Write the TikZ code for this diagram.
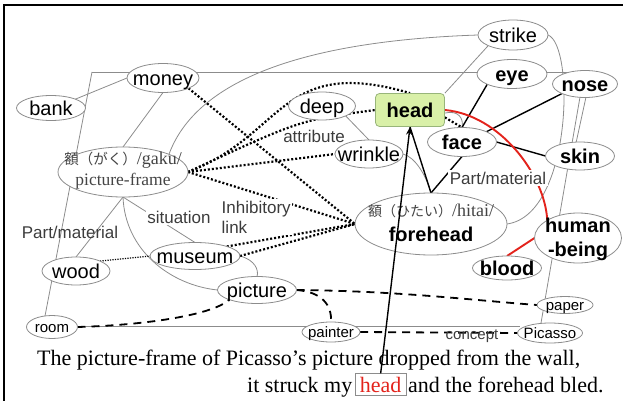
\documentclass[tikz,border=0pt]{standalone}
\usepackage{fontspec}
\setmainfont{Liberation Serif}
\setsansfont{Liberation Sans}
\newfontfamily\cjk{Noto Sans CJK JP}
\usetikzlibrary{arrows.meta,shapes.geometric}
\pgfdeclarelayer{bg}
\pgfsetlayers{bg,main}
\newcommand\ctr[1]{\makebox[0pt]{\smash{\raisebox{-0.36em}{#1}}}}
\newcommand\lnat[2]{\makebox[0pt]{\smash{\raisebox{#1}{#2}}}}
\definecolor{nodegray}{HTML}{8C8C8C}
\definecolor{linegray}{HTML}{8C8C8C}
\definecolor{hilite}{HTML}{E3231C}
\definecolor{headfill}{HTML}{D9F0A8}
\definecolor{headdraw}{HTML}{98B57A}
\definecolor{labeltext}{HTML}{3C3C3C}
\definecolor{jptext}{HTML}{444444}
\begin{document}
\begin{tikzpicture}[x=1pt,y=-1pt,
  nd/.style={ellipse, draw=nodegray, line width=0.8pt, fill=white, inner sep=0pt, outer sep=0pt, font=\sffamily\fontsize{20}{24}\selectfont, text=black},
  bnd/.style={nd, font=\sffamily\bfseries\fontsize{20}{24}\selectfont},
  snd/.style={nd, font=\sffamily\fontsize{15}{18}\selectfont},
  headbox/.style={rectangle, rounded corners=4pt, draw=headdraw, fill=headfill, line width=0.8pt, inner sep=0pt, minimum width=69pt, minimum height=33pt, font=\sffamily\bfseries\fontsize{20}{24}\selectfont},
  lbl/.style={font=\sffamily\fontsize{17}{20}\selectfont, text=labeltext, inner sep=1.5pt},
  sent/.style={anchor=base west, inner sep=0pt, font=\rmfamily\fontsize{22}{24}\selectfont},
  glink/.style={draw=linegray, line width=0.8pt},
  klink/.style={draw=black, line width=1.4pt},
  rlink/.style={draw=hilite, line width=1.9pt},
  dotlink/.style={draw=black, line width=2.2pt, dash pattern=on 2pt off 2pt},
  thindot/.style={draw=black, line width=1.2pt, dash pattern=on 1.2pt off 1.3pt},
  dashlink/.style={draw=black, line width=1.8pt, dash pattern=on 8pt off 6pt},
]
\useasboundingbox (0,0) rectangle (623,401);
\draw[line width=2pt] (4,401) -- (4,5) -- (623,5);

% nodes
\node[nd, minimum width=72pt, minimum height=29pt] (money) at (163,78) {\ctr{money}};
\node[nd, minimum width=69pt, minimum height=25pt] (bank) at (51,108) {\ctr{bank}};
\node[nd, minimum width=70pt, minimum height=30pt] (strike) at (513,35) {\ctr{strike}};
\node[bnd, minimum width=70pt, minimum height=29pt] (eye) at (512,74) {\ctr{eye}};
\node[bnd, minimum width=65pt, minimum height=27pt] (nose) at (585,84) {\ctr{nose}};
\node[headbox] (head) at (410,110) {\ctr{head}};
\node[nd, minimum width=67pt, minimum height=28pt] (deep) at (322,106) {\ctr{deep}};
\node[nd, minimum width=68pt, minimum height=28pt] (wrinkle) at (369,154) {\ctr{wrinkle}};
\node[bnd, minimum width=69pt, minimum height=29pt] (face) at (462,142) {\ctr{face}};
\node[bnd, minimum width=69pt, minimum height=28pt] (skin) at (580,156) {\ctr{skin}};
\node[nd, minimum width=130pt, minimum height=50pt] (pf) at (123,172)
  {\lnat{8pt}{\color{jptext}{\cjk\fontsize{14.5}{16}\selectfont 額（がく）}{\rmfamily\fontsize{18}{20}\selectfont /gaku/}}\lnat{-13pt}{\color{jptext}\rmfamily\fontsize{17.5}{20}\selectfont picture-frame}};
\node[bnd, minimum width=152pt, minimum height=62pt] (forehead) at (431,224)
  {\lnat{8pt}{\color{jptext}\mdseries{\cjk\fontsize{14}{16}\selectfont 額（ひたい）}{\rmfamily\fontsize{18}{20}\selectfont /hitai/}}\lnat{-17pt}{forehead}};
\node[bnd, minimum width=87pt, minimum height=50pt] (hb) at (578,238) {\lnat{6pt}{human}\lnat{-18pt}{-being}};
\node[bnd, minimum width=69pt, minimum height=24pt] (blood) at (507,268) {\ctr{blood}};
\node[nd, minimum width=68pt, minimum height=28pt] (wood) at (76,271) {\ctr{wood}};
\node[nd, minimum width=90pt, minimum height=27pt] (museum) at (195,256) {\ctr{museum}};
\node[nd, minimum width=79pt, minimum height=27pt] (picture) at (257,290) {\ctr{picture}};
\node[snd, minimum width=51pt, minimum height=23pt] (room) at (52,327) {\ctr{room}};
\node[snd, minimum width=58pt, minimum height=20pt] (painter) at (331,332) {\ctr{painter}};
\node[snd, minimum width=56pt, minimum height=17pt] (paper) at (565,305) {\ctr{paper}};
\node[snd, minimum width=65pt, minimum height=20pt] (picasso) at (550,333) {\ctr{Picasso}};

% labels
\node[lbl] (attr) at (314,136) {attribute};
\node[lbl] (pmL) at (70,232) {Part/material};
\node[lbl, fill=white] (sit) at (179,217) {situation};
\node[lbl, fill=white, align=left, anchor=west] (inh) at (220,217) {Inhibitory\\link};
\node[lbl, fill=white] (pmR) at (498,178) {Part/material};
\node[lbl, font=\sffamily\fontsize{15}{18}\selectfont] (concept) at (472,336) {concept};

% sentence
\node[sent] (s1) at (37,365) {The picture-frame of Picasso’s picture dropped from the wall,};
\node[sent] (s2a) at (247,392) {it struck my};
\node[sent, draw=nodegray, line width=0.8pt, inner xsep=5pt, inner ysep=3pt, text=hilite] (s2h) at ([xshift=2pt]s2a.base east) {head};
\node[sent] (s2b) at ([xshift=1pt]s2h.base east) {and the forehead bled.};

\begin{pgfonlayer}{bg}
  % background frame shape
  \draw[glink] (92,72) -- (572,72);
  \draw[glink] (92,72) -- (45,316);
  \draw[glink] (580,97) -- (541,323);
  \draw[glink] (586,97) -- (576,143);
  \draw[glink] (78,326) -- (520,326);
  % gray connectors
  \draw[glink] (bank.north east) -- (money.west);
  \draw[glink] (money.south) -- (pf.north);
  \draw[glink] (pf.north east) .. controls (200,70) and (330,40) .. (strike.west);
  \draw[glink] (head.north east) -- (strike.south west);
  \draw[glink] (strike.east) .. controls (575,45) and (572,215) .. (forehead.east);
  \draw[glink] (deep.south east) -- (wrinkle.north);
  \draw[glink] (wrinkle.east) .. controls (415,157) and (426,175) .. (forehead.north);
  \draw[glink] (pf.south) -- (museum.north);
  \draw[glink] (wood.north) -- (pf.south);
  \draw[glink] (pf.south) .. controls (125,250) and (170,285) .. (picture.west);
  \draw[glink] (museum.east) .. controls (255,260) and (259,270) .. (picture.north);
  \draw[glink] (head.-5) .. controls (458,110) and (464,118) .. (face.north);
  % black solid
  \draw[klink] (eye.south west) -- (face.north);
  \draw[klink] (face.north east) -- (nose.south west);
  \draw[klink] (face.east) -- (skin.west);
  \draw[klink] (face.south) -- (forehead.north);
  \draw[klink] (head.south) -- (forehead.north);
  % red
  \draw[rlink] (head.east) .. controls (500,115) and (545,175) .. (hb.north west);
  \draw[rlink] (blood.north) -- (hb.west);
  % dotted
  \draw[dotlink] (pf.east) .. controls (285,135) and (280,55) .. (head.north);
  \draw[dotlink] (pf.east) .. controls (300,120) .. (head.west);
  \draw[dotlink] (pf.east) -- (wrinkle.west);
  \draw[dotlink] (pf.east) -- (forehead.west);
  \draw[dotlink] (money.south east) -- (forehead.west);
  \draw[dotlink] (museum.north east) -- (forehead.west);
  \draw[dotlink] (museum.east) -- (forehead.west);
  \draw[thindot] (wood.north east) -- (museum.west);
  \draw[dotlink] (head.-12) -- (face.north);
  % dashed
  \draw[dashlink] (room.east) .. controls (150,325) and (215,314) .. (picture.south west);
  \draw[dashlink] (picture.east) .. controls (400,291) and (470,300) .. (paper.west);
  \draw[dashlink] (picture.east) .. controls (322,292) and (332,305) .. (painter.north);
  \draw[dashlink] (painter.east) -- (picasso.west);
\end{pgfonlayer}

% long arrow on top
\draw[klink, -{Stealth[length=8pt,width=6pt]}] (s2h.north) -- (head.south);
\end{tikzpicture}
\end{document}
